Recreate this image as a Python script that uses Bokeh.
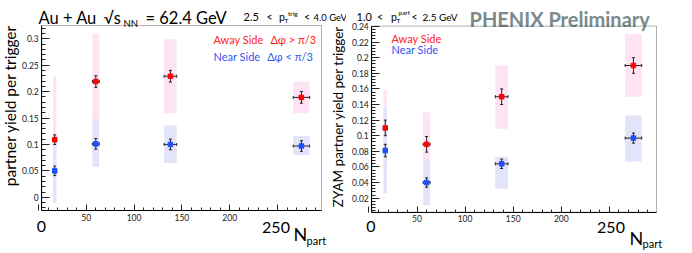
import math
from bokeh.plotting import figure
from bokeh.models import (ColumnDataSource, Range1d, FixedTicker, Label,
                          NumeralTickFormatter, BoxAnnotation)
from bokeh.layouts import row
from bokeh.embed import file_html
from bokeh.resources import INLINE

# ---------------- data ----------------
npart = [17, 60, 138, 275]
npart_err = [1.7, 3.6, 6.6, 8.6]

# left panel: partner yield per trigger
away_y = [0.109, 0.219, 0.229, 0.189]
away_stat = [0.009, 0.011, 0.011, 0.011]
away_sys_lo = [-0.011, 0.129, 0.159, 0.159]
away_sys_hi = [0.229, 0.309, 0.299, 0.219]
near_y = [0.050, 0.101, 0.100, 0.097]
near_stat = [0.009, 0.010, 0.010, 0.010]
near_sys_lo = [-0.011, 0.058, 0.065, 0.080]
near_sys_hi = [0.120, 0.147, 0.136, 0.116]

# right panel: ZYAM partner yield per trigger
away2_y = [0.110, 0.089, 0.150, 0.190]
away2_stat = [0.010, 0.010, 0.010, 0.010]
away2_sys_lo = [0.060, 0.050, 0.109, 0.150]
away2_sys_hi = [0.159, 0.130, 0.190, 0.230]
near2_y = [0.081, 0.040, 0.064, 0.097]
near2_stat = [0.008, 0.006, 0.006, 0.0065]
near2_sys_lo = [0.026, 0.011, 0.032, 0.067]
near2_sys_hi = [0.137, 0.070, 0.073, 0.126]

x_major = [0, 50, 100, 150, 200, 250]
x_tick_labels = ["", "50", "100", "150", "200", ""]
y1_major = [0, 0.05, 0.1, 0.15, 0.2, 0.25, 0.3]
y2_major = [0.02, 0.04, 0.06, 0.08, 0.1, 0.12, 0.14, 0.16, 0.18, 0.2, 0.22, 0.24]

FONT = "Lato"
RED = "#ff0000"
BLUE = "#1f4dff"
RED_TXT = "#ff2020"
BLUE_TXT = "#3355f0"
PINK_BAND = "#fde3f3"
BLUE_BAND = "#e3e4f9"
ERR = "#222222"
H = 253


def make_fig(width, page_left, box, xr, yr, yticks, yminor):
    """box = (left, right, top, bottom) of the plotting box in page pixels."""
    l, r = box[0] - page_left, box[1] - page_left
    t, b = box[2], box[3]
    kx = (r - l) / (xr[1] - xr[0])
    ky = (b - t) / (yr[1] - yr[0])
    X = (xr[0] - l / kx, xr[1] + (width - r) / kx)
    Y = (yr[0] - (H - b) / ky, yr[1] + t / ky)
    p = figure(width=width, height=H, x_range=Range1d(*X), y_range=Range1d(*Y),
               output_backend="svg", toolbar_location=None, min_border=0)
    p.xgrid.visible = False
    p.ygrid.visible = False
    p.outline_line_color = None
    p.add_layout(BoxAnnotation(left=xr[0], right=xr[1], bottom=yr[0], top=yr[1],
                               fill_alpha=0, line_color="black", line_width=1, level="overlay"))
    xminor = [v for v in range(10, 300, 10)]
    p.xaxis.ticker = FixedTicker(ticks=x_major, minor_ticks=xminor)
    p.xaxis.major_label_overrides = dict(zip(x_major, x_tick_labels))
    p.xaxis.fixed_location = yr[0]
    p.xaxis.bounds = xr
    p.yaxis.ticker = FixedTicker(ticks=yticks, minor_ticks=yminor)
    p.yaxis.formatter = NumeralTickFormatter(format="0.[00]")
    p.yaxis.fixed_location = xr[0]
    p.yaxis.bounds = yr
    for ax in (p.xaxis[0], p.yaxis[0]):
        ax.axis_line_color = "black"
        ax.major_tick_line_color = "#222222"
        ax.minor_tick_line_color = "#222222"
        ax.major_tick_out = 0
        ax.minor_tick_out = 0
        ax.major_label_text_font = FONT
        ax.major_label_text_font_size = "8.5px"
        ax.major_label_text_color = "#222222"
        ax.major_label_standoff = 3
    p.xaxis.major_tick_in = 6
    p.xaxis.minor_tick_in = 3
    p.yaxis.major_tick_in = 8
    p.yaxis.minor_tick_in = 4
    return p


def series_source(ys, stat, lo, hi):
    return ColumnDataSource(dict(
        x=npart, y=ys,
        xl=[a - e for a, e in zip(npart, npart_err)],
        xh=[a + e for a, e in zip(npart, npart_err)],
        yl=[a - e for a, e in zip(ys, stat)],
        yh=[a + e for a, e in zip(ys, stat)],
        lo=lo, hi=hi))


def draw_band(p, src, band):
    p.quad(left="xl", right="xh", bottom="lo", top="hi", source=src,
           fill_color=band, line_color=None)


def draw_points(p, src, color):
    # stat error bars
    p.segment(x0="x", y0="yl", x1="x", y1="yh", source=src, line_color=ERR, line_width=1)
    p.segment(x0="xl", y0="y", x1="xh", y1="y", source=src, line_color=ERR, line_width=1)
    # end caps
    for cx, cy, ang in (("x", "yl", 0.0), ("x", "yh", 0.0),
                        ("xl", "y", math.pi / 2), ("xh", "y", math.pi / 2)):
        p.scatter(cx, cy, source=src, marker="dash", size=3, angle=ang,
                  line_color=ERR, line_width=1)
    p.scatter("x", "y", source=src, marker="square", size=4.5,
              fill_color=color, line_color=color)


def lab(p, page_left, text, px, py, size, color="black", align="left",
        baseline="alphabetic", angle=0.0, style="normal"):
    p.add_layout(Label(x=px - page_left, y=H - py, x_units="screen", y_units="screen",
                       text=text, text_font=FONT, text_font_size=f"{size}px",
                       text_color=color, text_align=align, text_baseline=baseline,
                       angle=angle, text_font_style=style))


# ---------------- left panel ----------------
y1_minor = [round(-0.02 + 0.01 * i, 3) for i in range(35)]
p1 = make_fig(346, 0, (41.3, 321, 25, 210), (3.5, 296), (-0.025, 0.325), y1_major, y1_minor)
sa = series_source(away_y, away_stat, away_sys_lo, away_sys_hi)
sn = series_source(near_y, near_stat, near_sys_lo, near_sys_hi)
draw_band(p1, sa, PINK_BAND)
draw_band(p1, sn, BLUE_BAND)
draw_points(p1, sa, RED)
draw_points(p1, sn, BLUE)

# ---------------- right panel ----------------
y2_minor = [round(0.004 * i, 3) for i in range(1, 61)]
p2 = make_fig(346, 346, (371.3, 656, 25.6, 211.7), (3, 299), (0.002, 0.2405), y2_major, y2_minor)
sa2 = series_source(away2_y, away2_stat, away2_sys_lo, away2_sys_hi)
sn2 = series_source(near2_y, near2_stat, near2_sys_lo, near2_sys_hi)
draw_band(p2, sa2, PINK_BAND)
draw_band(p2, sn2, BLUE_BAND)
draw_points(p2, sa2, RED)
draw_points(p2, sn2, BLUE)

# ---------------- texts (page coordinates) ----------------
L = lambda *a, **k: lab(p1, 0, *a, **k)
R = lambda *a, **k: lab(p2, 346, *a, **k)

L("Au + Au", 38, 17, 16.5)
L("\u221as", 103, 17, 16.5)
L("NN", 123, 23, 9.5)
L("= 62.4 GeV", 145, 17, 16.5)
L("2.5", 243, 16.7, 11)
L("<", 266, 16.7, 10.5)
L("p", 278.5, 16.7, 10.5)
L("T", 284, 19.5, 6.5)
L("trig", 287.5, 12.5, 6.5)
L("<", 303.5, 16.7, 10.5)
L("4.0 GeV", 313, 16.7, 9.5)
R("1.0", 356, 16.7, 11)
R("<", 376.5, 16.7, 10.5)
R("p", 390.5, 16.7, 10.5)
R("T", 396, 19.5, 6.5)
R("part", 398, 12, 6.5)
R("<", 411, 16.7, 10.5)
R("2.5 GeV", 422, 16.7, 10)
R("PHENIX Preliminary", 469, 18, 20, color="#7b8b8b", style="bold")

L("Away Side", 213, 39, 11, RED_TXT)
L("\u0394\u03c6 > \u03c0/3", 270, 39, 11, RED_TXT)
L("Near Side", 213, 56, 11, BLUE_TXT)
L("\u0394\u03c6 < \u03c0/3", 266.7, 56, 11, BLUE_TXT)
R("Away Side", 391, 37.5, 11, RED_TXT)
R("Near Side", 391, 49, 11, BLUE_TXT)

L("partner yield per trigger", 9, 105, 15.5, align="center", baseline="middle",
  angle=math.pi / 2)
L("ZYAM partner yield per trigger", 337, 116, 13.5, align="center", baseline="middle",
  angle=math.pi / 2)
L("0", 41, 226, 16, align="center")
L("250", 275.5, 227, 16, align="center")
L("N", 293, 233, 18)
L("part", 306, 240, 11)
R("0", 370.5, 226, 16, align="center")
R("250", 610.5, 227, 16, align="center")
R("N", 629, 237, 18)
R("part", 642, 243, 11)

layout = row(p1, p2)
open("out.html", "w").write(file_html(layout, INLINE))
